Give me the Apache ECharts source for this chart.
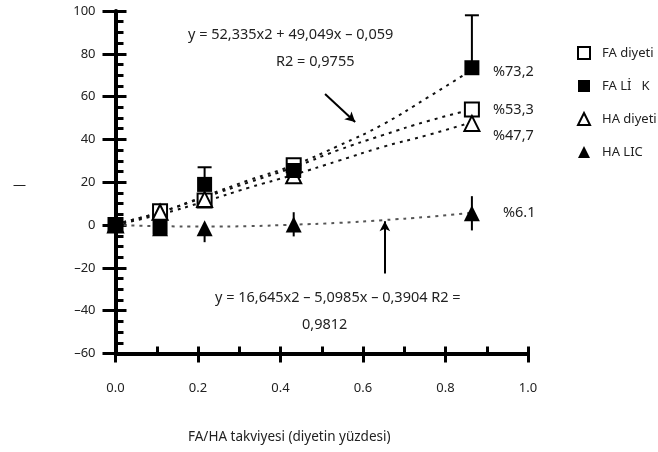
<!DOCTYPE html>
<html>
<head>
<meta charset="utf-8">
<script src="https://cdn.jsdelivr.net/npm/echarts@6/dist/echarts.min.js"></script>
<style>html,body{margin:0;padding:0;background:#fff;}#c{width:658px;height:452px;}</style>
</head>
<body>
<div id="c"></div>
<script>
// ---- data ----
var seriesNames = ['FA diyeti', 'FA Lİ   K', 'HA diyeti', 'HA LIC'];
var doseX = [0, 0.108, 0.216, 0.432, 0.864];
var faDiyeti = [0, 6.5, 11.5, 28, 54];
var faLik = [0, -1, 19, 25.5, 73.5];
var haDiyeti = [0, 6, 12, 23, 47.5];
var haLic = [0, -1.5, -1.5, 0.3, 5.5];

// trend (fit) curves
var trendX = [0, 0.108, 0.216, 0.324, 0.432, 0.54, 0.648, 0.756, 0.864];
var trendFaLik = [0.5, 6, 13.5, 21, 28, 37, 47, 59.5, 72.5];
var trendFaDiyeti = [0.5, 6, 13, 20, 27, 35, 42, 48.5, 54];
var trendHaDiyeti = [0, 5, 11, 17.5, 23.5, 30, 36.5, 42, 48];
var trendHaLic = [0, -0.5, -0.7, -0.5, 0.2, 1, 2.3, 3.8, 5.8];

// error bars: [x, low, high, cap]
var errFaLik = [[0.216, 19, 27, 1], [0.864, 73.5, 98, 1]];
var errHaLic = [[0.216, -8, -1.5, 0], [0.432, -5.3, 6, 0], [0.864, -2.5, 13.5, 0]];

// annotation arrows [[x1,y1],[x2,y2]]
var arrowA = [[0.508, 61.2], [0.581, 48.1]];
var arrowB = [[0.653, -22.6], [0.653, 1.8]];

var yTickMin = -60, yTickMax = 100, yTickStep = 20;
var xTickMin = 0, xTickMax = 1, xTickStep = 0.2;

function zip(xs, ys) { return xs.map(function (x, i) { return [x, ys[i]]; }); }

var FONT = 'Noto Sans';
var ANN = '14.5px "Noto Sans"';
var chart = echarts.init(document.getElementById('c'));

function errRender(params, api) {
  var x = api.value(0), lo = api.value(1), hi = api.value(2), cap = api.value(3);
  var p1 = api.coord([x, lo]), p2 = api.coord([x, hi]);
  var ch = [{ type: 'line', shape: { x1: p1[0], y1: p1[1], x2: p2[0], y2: p2[1] }, style: { stroke: '#000', lineWidth: 2 } }];
  if (cap) ch.push({ type: 'line', shape: { x1: p2[0] - 7, y1: p2[1], x2: p2[0] + 7, y2: p2[1] }, style: { stroke: '#000', lineWidth: 2 } });
  return { type: 'group', children: ch };
}

function trend(data, color, width) {
  return {
    type: 'line', data: data, smooth: true, symbol: 'none', silent: true, z: 2,
    lineStyle: { color: color, width: width, type: [3, 5] }
  };
}

var axisBase = {
  axisLine: { show: true, onZero: false, lineStyle: { color: '#000', width: 4 } },
  splitLine: { show: false }
};

var option = {
  animation: false,
  backgroundColor: '#fff',
  grid: { left: 115.5, right: 130, top: 11, bottom: 98.5 },
  xAxis: [
    Object.assign({}, axisBase, {
      type: 'value', min: xTickMin, max: xTickMax, interval: xTickStep, position: 'bottom',
      axisTick: { show: true, inside: true, length: 7, lineStyle: { color: '#000', width: 3 } },
      minorTick: { show: true, splitNumber: 2, length: 7, lineStyle: { color: '#000', width: 3 } },
      axisLabel: { margin: 28, fontFamily: FONT, fontSize: 13, color: '#222', formatter: function (v) { return v.toFixed(1); } }
    }),
    {
      type: 'value', min: xTickMin, max: xTickMax, interval: xTickStep, position: 'bottom',
      axisLine: { show: false, onZero: false }, splitLine: { show: false }, axisLabel: { show: false },
      axisTick: { show: true, inside: false, length: 9, lineStyle: { color: '#000', width: 3 } }
    }
  ],
  yAxis: [
    Object.assign({}, axisBase, {
      type: 'value', min: yTickMin, max: yTickMax, interval: yTickStep, position: 'left',
      axisTick: { show: true, inside: true, length: 11, lineStyle: { color: '#000', width: 3 } },
      minorTick: { show: true, splitNumber: 4, length: 8, lineStyle: { color: '#000', width: 3 } },
      axisLabel: { margin: 20, fontFamily: FONT, fontSize: 13, color: '#222',
        formatter: function (v) { return v < 0 ? '\u2013' + Math.abs(v) : String(v); } }
    }),
    {
      type: 'value', min: yTickMin, max: yTickMax, interval: yTickStep, position: 'left',
      axisLine: { show: false, onZero: false }, splitLine: { show: false }, axisLabel: { show: false },
      axisTick: { show: true, inside: false, length: 13, lineStyle: { color: '#000', width: 3 } }
    }
  ],
  legend: {
    data: seriesNames, orient: 'vertical', left: 577, top: 46, padding: 0,
    itemWidth: 12, itemHeight: 12, itemGap: 19.5,
    textStyle: { fontFamily: FONT, fontSize: 13, color: '#222', padding: [0, 0, 0, 7] },
    selectedMode: false
  },
  series: [
    Object.assign(trend(zip(trendX, trendFaLik), '#111', 2), {
      markLine: {
        silent: true, symbol: ['none', 'arrow'], symbolSize: [8, 10], label: { show: false },
        lineStyle: { color: '#000', width: 2, type: 'solid' },
        data: [
          [{ coord: arrowA[0] }, { coord: arrowA[1] }],
          [{ coord: arrowB[0] }, { coord: arrowB[1] }]
        ]
      }
    }),
    trend(zip(trendX, trendFaDiyeti), '#111', 2),
    trend(zip(trendX, trendHaDiyeti), '#111', 2),
    trend(zip(trendX, trendHaLic), '#555', 2),
    { type: 'custom', renderItem: errRender, data: errFaLik, encode: { x: 0, y: [1, 2] }, z: 3, silent: true },
    { type: 'custom', renderItem: errRender, data: errHaLic, encode: { x: 0, y: [1, 2] }, z: 3, silent: true },
    { name: seriesNames[0], type: 'scatter', data: zip(doseX, faDiyeti), symbol: 'rect', symbolSize: 14, z: 4,
      itemStyle: { color: '#fff', borderColor: '#000', borderWidth: 2, opacity: 1 } },
    { name: seriesNames[2], type: 'scatter', data: zip(doseX, haDiyeti), symbol: 'triangle', symbolSize: 15, z: 5,
      itemStyle: { color: '#fff', borderColor: '#000', borderWidth: 2, opacity: 1 } },
    { name: seriesNames[1], type: 'scatter', data: zip(doseX, faLik), symbol: 'rect', symbolSize: 15, z: 6,
      itemStyle: { color: '#000', borderColor: '#000', borderWidth: 0, opacity: 1 } },
    { name: seriesNames[3], type: 'scatter', data: zip(doseX, haLic), symbol: 'triangle', symbolSize: 16, z: 7,
      itemStyle: { color: '#000', borderColor: '#000', borderWidth: 0, opacity: 1 } }
  ],
  graphic: [
    { type: 'text', left: 188, top: 27, style: { text: 'y = 52,335x2 + 49,049x \u2013 0,059', font: ANN, fill: '#222' } },
    { type: 'text', left: 276, top: 54, style: { text: 'R2 = 0,9755', font: ANN, fill: '#222' } },
    { type: 'text', left: 215, top: 290, style: { text: 'y = 16,645x2 \u2013 5,0985x \u2013 0,3904 R2 =', font: ANN, fill: '#222' } },
    { type: 'text', left: 302, top: 317, style: { text: '0,9812', font: ANN, fill: '#222' } },
    { type: 'text', left: 493, top: 64, style: { text: '%73,2', font: ANN, fill: '#222' } },
    { type: 'text', left: 493, top: 102, style: { text: '%53,3', font: ANN, fill: '#222' } },
    { type: 'text', left: 493, top: 128, style: { text: '%47,7', font: ANN, fill: '#222' } },
    { type: 'text', left: 503, top: 205, style: { text: '%6.1', font: ANN, fill: '#222' } },
    { type: 'text', left: 188, top: 430, style: { text: 'FA/HA takviyesi (diyetin yüzdesi)', font: '13.5px "Noto Sans"', fill: '#222' } },
    { type: 'text', left: 13, top: 179, style: { text: '\u2014', font: '13px "Noto Sans"', fill: '#222' } }
  ]
};
chart.setOption(option);
</script>
</body>
</html>
